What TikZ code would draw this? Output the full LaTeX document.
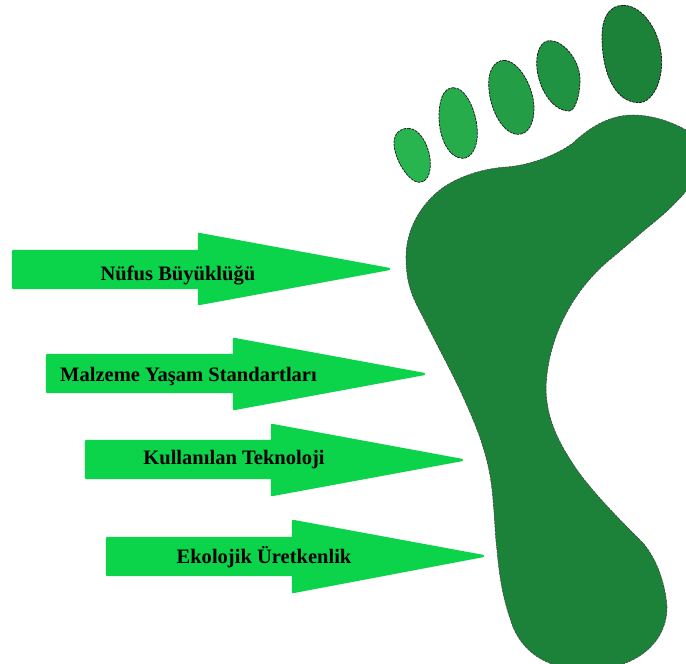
\documentclass[tikz,border=0pt]{standalone}
\usepackage{fontspec}
\setmainfont{Liberation Serif}
\tikzset{
  px/.style={x=0.75pt,y=-0.75pt},
  arrowshape/.style={fill=arrowgreen,draw=arrowgreen,line width=1.8pt,line join=round},
  arrowlabel/.style={font=\bfseries\fontsize{15.4}{17}\selectfont,text=black,inner sep=0pt,anchor=base},
  toe/.style={draw=black!90,line width=0.55pt,dash pattern=on 2pt off 0.7pt},
  sole/.style={fill=footgreen,draw=black!75,line width=0.4pt,dash pattern=on 2pt off 0.7pt}
}
\definecolor{arrowgreen}{HTML}{0CD44A}
\definecolor{footgreen}{HTML}{1C8139}
\definecolor{toea}{HTML}{28B54F}
\definecolor{toeb}{HTML}{26AC4B}
\definecolor{toec}{HTML}{239D46}
\definecolor{toed}{HTML}{209342}
\definecolor{toee}{HTML}{1C8139}
\begin{document}
\begin{tikzpicture}[px]
\useasboundingbox (0,0) rectangle (686,664);
\clip (0,0) rectangle (686,664);
\fill[white] (0,0) rectangle (686,664);
% sole
\draw[sole] (406,257) .. controls (406,225) and (426,198) .. (447,185)
 .. controls (465,174) and (488,168) .. (507,167)
 .. controls (530,165) and (555,156) .. (573,143)
 .. controls (592,125) and (612,115) .. (633,115)
 .. controls (652,115) and (672,122) .. (686,130)
 .. controls (705,145) and (700,180) .. (678,200)
 .. controls (668,211) and (658,219) .. (647,228)
 .. controls (635,238) and (625,247) .. (613,257)
 .. controls (575,287) and (548,335) .. (546,387)
 .. controls (546,420) and (560,445) .. (577,470)
 .. controls (595,495) and (620,520) .. (643,543)
 .. controls (655,557) and (665,580) .. (667,607)
 .. controls (667,640) and (640,668) .. (590,670)
 .. controls (550,670) and (525,655) .. (513,627)
 .. controls (505,605) and (500,585) .. (497,550)
 .. controls (495,535) and (495,520) .. (493,500)
 .. controls (492,485) and (489,465) .. (483,447)
 .. controls (478,430) and (470,412) .. (460,390)
 .. controls (448,365) and (437,345) .. (423,317)
 .. controls (413,298) and (406,285) .. (406,257) -- cycle;
% toes
\begin{scope}[shift={(380,0)},x=0.25pt,y=-0.25pt]
\draw[toe,fill=toea] (85,385) .. controls (120,385) and (150,440) .. (151,490) .. controls (152,530) and (135,547) .. (118,547) .. controls (85,547) and (42,475) .. (42,430) .. controls (42,400) and (60,385) .. (85,385) -- cycle;
\draw[toe,fill=toeb] (220,263) .. controls (260,263) and (292,340) .. (292,400) .. controls (292,450) and (270,475) .. (248,475) .. controls (205,475) and (177,410) .. (177,350) .. controls (177,300) and (190,263) .. (220,263) -- cycle;
\draw[toe,fill=toec] (372,181) .. controls (415,181) and (462,260) .. (462,325) .. controls (462,370) and (445,403) .. (415,403) .. controls (365,403) and (326,320) .. (326,250) .. controls (326,210) and (345,181) .. (372,181) -- cycle;
\draw[toe,fill=toed] (510,122) .. controls (550,122) and (600,180) .. (600,240) .. controls (600,285) and (585,333) .. (568,333) .. controls (510,333) and (470,250) .. (470,190) .. controls (470,150) and (485,122) .. (510,122) -- cycle;
\draw[toe,fill=toee] (730,16) .. controls (790,16) and (845,100) .. (845,185) .. controls (845,260) and (810,308) .. (778,308) .. controls (700,308) and (666,210) .. (666,110) .. controls (666,50) and (690,16) .. (730,16) -- cycle;
\end{scope}
% arrows
\draw[arrowshape] (13,251) -- (199,251) -- (199,234) -- (389,269) -- (199,304) -- (199,288) -- (13,288) -- cycle;
\draw[arrowshape] (47,355) -- (234,355) -- (234,339) -- (424,374) -- (234,409) -- (234,392) -- (47,392) -- cycle;
\draw[arrowshape] (86,441) -- (272,441) -- (272,425) -- (462,460) -- (272,495) -- (272,478) -- (86,478) -- cycle;
\draw[arrowshape] (107,538) -- (293,538) -- (293,521) -- (483,556) -- (293,592) -- (293,575) -- (107,575) -- cycle;
% labels
\node[arrowlabel] (l1) at (178,280) {Nüfus Büyüklüğü};
\node[arrowlabel] (l2) at (188.5,381) {Malzeme Yaşam Standartları};
\node[arrowlabel] (l3) at (234,464) {Kullanılan Teknoloji};
\node[arrowlabel] (l4) at (264,563) {Ekolojik Üretkenlik};
\end{tikzpicture}
\end{document}
